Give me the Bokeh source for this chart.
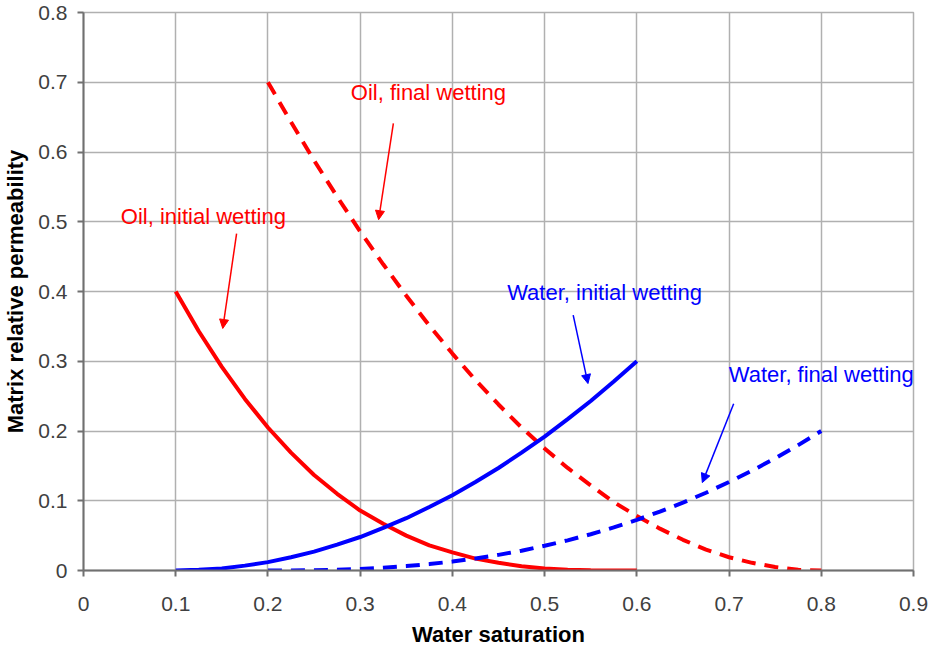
from bokeh.plotting import figure
from bokeh.models import (Range1d, FixedTicker, CustomJSTickFormatter, Label,
                          Arrow, NormalHead)
from bokeh.embed import file_html
from bokeh.resources import INLINE

# Water saturation sample points for each curve
sw_oil_initial = [0.100, 0.125, 0.150, 0.175, 0.200, 0.225, 0.250, 0.275, 0.300,
                  0.325, 0.350, 0.375, 0.400, 0.425, 0.450, 0.475, 0.500, 0.525,
                  0.550, 0.575, 0.600]
kr_oil_initial = [0.400, 0.343, 0.292, 0.246, 0.205, 0.169, 0.137, 0.110, 0.086,
                  0.067, 0.050, 0.036, 0.026, 0.017, 0.011, 0.006, 0.003, 0.001,
                  0.0004, 0.0001, 0.000]

sw_oil_final = [0.200, 0.225, 0.250, 0.275, 0.300, 0.325, 0.350, 0.375, 0.400,
                0.425, 0.450, 0.475, 0.500, 0.525, 0.550, 0.575, 0.600, 0.625,
                0.650, 0.675, 0.700, 0.725, 0.750, 0.775, 0.800]
kr_oil_final = [0.700, 0.643, 0.588, 0.536, 0.486, 0.439, 0.394, 0.351, 0.311,
                0.273, 0.238, 0.205, 0.175, 0.147, 0.122, 0.098, 0.078, 0.060,
                0.044, 0.030, 0.019, 0.011, 0.005, 0.001, 0.000]

sw_water_initial = [0.100, 0.125, 0.150, 0.175, 0.200, 0.225, 0.250, 0.275, 0.300,
                    0.325, 0.350, 0.375, 0.400, 0.425, 0.450, 0.475, 0.500, 0.525,
                    0.550, 0.575, 0.600]
kr_water_initial = [0.000, 0.001, 0.003, 0.007, 0.012, 0.019, 0.027, 0.037, 0.048,
                    0.061, 0.075, 0.091, 0.108, 0.127, 0.147, 0.169, 0.192, 0.217,
                    0.243, 0.271, 0.300]

sw_water_final = [0.200, 0.225, 0.250, 0.275, 0.300, 0.325, 0.350, 0.375, 0.400,
                  0.425, 0.450, 0.475, 0.500, 0.525, 0.550, 0.575, 0.600, 0.625,
                  0.650, 0.675, 0.700, 0.725, 0.750, 0.775, 0.800]
kr_water_final = [0.0000, 0.0001, 0.0004, 0.0011, 0.0023, 0.0040, 0.0063, 0.0092,
                  0.0128, 0.0172, 0.0224, 0.0284, 0.0354, 0.0432, 0.0520, 0.0618,
                  0.0726, 0.0844, 0.0974, 0.1115, 0.1268, 0.1432, 0.1609, 0.1798,
                  0.2000]

x_ticks = [0, 0.1, 0.2, 0.3, 0.4, 0.5, 0.6, 0.7, 0.8, 0.9]
y_ticks = [0, 0.1, 0.2, 0.3, 0.4, 0.5, 0.6, 0.7, 0.8]

# Callout labels: text, colour, label centre, arrow start, arrow tip
callouts = [
    ("Oil, final wetting", "#ff0000", (0.374, 0.685), (0.336, 0.641), (0.320, 0.503)),
    ("Oil, initial wetting", "#ff0000", (0.130, 0.508), (0.166, 0.483), (0.151, 0.347)),
    ("Water, initial wetting", "#0000ff", (0.565, 0.399), (0.531, 0.366), (0.547, 0.268)),
    ("Water, final wetting", "#0000ff", (0.800, 0.281), (0.705, 0.239), (0.671, 0.126)),
]

FONT = "Liberation Sans"

p = figure(width=928, height=649, output_backend="svg", toolbar_location=None,
           x_range=Range1d(0, 0.9), y_range=Range1d(0, 0.8),
           min_border_left=83, min_border_right=15, min_border_top=12,
           min_border_bottom=79)
p.background_fill_color = "white"
p.border_fill_color = "white"
p.outline_line_color = "#b0b0b0"
p.outline_line_width = 1.5

fmt = CustomJSTickFormatter(code="return tick.toFixed(1).replace(/\\.0$/, '');")
p.xaxis.ticker = FixedTicker(ticks=x_ticks)
p.yaxis.ticker = FixedTicker(ticks=y_ticks)
for ax in (p.xaxis[0], p.yaxis[0]):
    ax.formatter = fmt
    ax.axis_line_color = "#707070"
    ax.axis_line_width = 2
    ax.major_tick_line_color = "#707070"
    ax.major_tick_line_width = 2
    ax.major_tick_out = 6
    ax.major_tick_in = 0
    ax.minor_tick_line_color = None
    ax.major_label_text_font = FONT
    ax.major_label_text_font_size = "21px"
    ax.major_label_text_color = "#404040"
    ax.axis_label_text_font = FONT
    ax.axis_label_text_font_style = "bold"
    ax.axis_label_text_font_size = "22px"
    ax.axis_label_text_color = "#000000"

p.xaxis.axis_label = "Water saturation"
p.yaxis.axis_label = "Matrix relative permeability"
p.xaxis.major_label_standoff = 20
p.xaxis.axis_label_standoff = 8
p.yaxis.major_label_standoff = 10
p.yaxis.axis_label_standoff = 7

p.xgrid.grid_line_color = "#b0b0b0"
p.ygrid.grid_line_color = "#b0b0b0"
p.xgrid.grid_line_width = 1.5
p.ygrid.grid_line_width = 1.5

dash = "14 9"
p.line(sw_oil_initial, kr_oil_initial, line_color="#ff0000", line_width=4)
p.line(sw_oil_final, kr_oil_final, line_color="#ff0000", line_width=4,
       line_dash=dash)
p.line(sw_water_initial, kr_water_initial, line_color="#0000ff", line_width=4)
p.line(sw_water_final, kr_water_final, line_color="#0000ff", line_width=4,
       line_dash=dash)

for text, color, (lx, ly), (ax0, ay0), (ax1, ay1) in callouts:
    p.add_layout(Label(x=lx, y=ly, text=text, text_color=color,
                       text_font=FONT, text_font_size="22px",
                       text_align="center", text_baseline="middle"))
    p.add_layout(Arrow(x_start=ax0, y_start=ay0, x_end=ax1, y_end=ay1,
                       line_color=color, line_width=1.5,
                       end=NormalHead(size=9, fill_color=color,
                                      line_color=color, line_width=1)))

open("out.html", "w").write(file_html(p, INLINE))
